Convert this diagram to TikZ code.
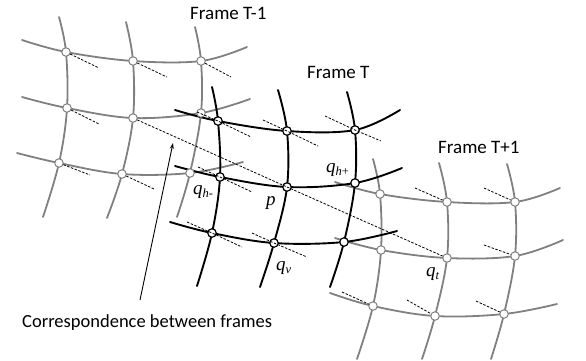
\documentclass[tikz,border=0pt]{standalone}
\usepackage{fontspec}
\setmainfont{Carlito}
\newfontfamily\labfont{Liberation Serif}
\newcommand{\qsub}[1]{{\itshape q}\raisebox{-3.5pt}{\fontsize{12.5}{13}\selectfont #1}}
\usetikzlibrary{arrows.meta}
\begin{document}
\begin{tikzpicture}[x=1pt,y=-1pt,
  grayline/.style={draw=black!50, line width=1.8pt, line cap=round},
  blackline/.style={draw=black, line width=1.9pt, line cap=round},
  graydot/.style={circle, draw=black!50, fill=white, line width=1pt, inner sep=0pt, minimum size=8.5pt},
  blackdot/.style={circle, draw=black, fill=white, line width=1.2pt, inner sep=0pt, minimum size=8.5pt},
  corr/.style={draw=black, line width=0.8pt, dash pattern=on 2.5pt off 1.5pt},
  framelabel/.style={font=\fontsize{19}{22}\selectfont, anchor=base west, inner sep=0pt},
  mathlabel/.style={font=\labfont\fontsize{19}{22}\selectfont, anchor=base west, inner sep=0pt}]
\useasboundingbox (0,0) rectangle (586,360);

% ---------- coordinates: Frame T-1 ----------
\coordinate (a11) at (66,52);  \coordinate (a12) at (133,61);  \coordinate (a13) at (201,61);
\coordinate (a21) at (67,108); \coordinate (a22) at (133,118); \coordinate (a23) at (201,113);
\coordinate (a31) at (59,163); \coordinate (a32) at (122,174); \coordinate (a33) at (190,173);
\coordinate (ar1s) at (22,40);  \coordinate (ar1e) at (247,47);
\coordinate (ar2s) at (22,97);  \coordinate (ar2e) at (250,99);
\coordinate (ar3s) at (17,153); \coordinate (ar3e) at (243,162);
\coordinate (ac1s) at (59,17);  \coordinate (ac1e) at (43,217);
\coordinate (ac2s) at (126,22); \coordinate (ac2e) at (107,218);
\coordinate (ac3s) at (195,27); \coordinate (ac3e) at (177,217);

% ---------- coordinates: Frame T ----------
\coordinate (b11) at (218,121); \coordinate (b12) at (287,131); \coordinate (b13) at (355,130);
\coordinate (b21) at (220,177); \coordinate (b22) at (287,187); \coordinate (b23) at (355,183);
\coordinate (b31) at (212,233); \coordinate (b32) at (274,243); \coordinate (b33) at (344,242);
\coordinate (br1s) at (175,110); \coordinate (br1e) at (400,110);
\coordinate (br2s) at (175,166); \coordinate (br2e) at (402,168);
\coordinate (br3s) at (170,222); \coordinate (br3e) at (397,231);
\coordinate (bc1s) at (212,87);  \coordinate (bc1e) at (197,286);
\coordinate (bc2s) at (278,90);  \coordinate (bc2e) at (260,287);
\coordinate (bc3s) at (347,92);  \coordinate (bc3e) at (330,287);

% ---------- coordinates: Frame T+1 ----------
\coordinate (c11) at (380,194); \coordinate (c12) at (447,202); \coordinate (c13) at (515,202);
\coordinate (c21) at (381,250); \coordinate (c22) at (447,258); \coordinate (c23) at (515,256);
\coordinate (c31) at (373,306); \coordinate (c32) at (435,316); \coordinate (c33) at (504,314);
\coordinate (cr1s) at (335,182); \coordinate (cr1e) at (560,188);
\coordinate (cr2s) at (335,238); \coordinate (cr2e) at (563,240);
\coordinate (cr3s) at (330,293); \coordinate (cr3e) at (557,304);
\coordinate (cc1s) at (373,159); \coordinate (cc1e) at (357,359);
\coordinate (cc2s) at (439,163); \coordinate (cc2e) at (422,359);
\coordinate (cc3s) at (507,164); \coordinate (cc3e) at (491,359);

% ---------- grids ----------
\foreach \g in {a,c}{
  \foreach \i in {1,2,3}{
    \draw[grayline] plot[smooth, tension=0.6] coordinates {(\g r\i s) (\g\i1) (\g\i2) (\g\i3) (\g r\i e)};
    \draw[grayline] plot[smooth, tension=0.6] coordinates {(\g c\i s) (\g1\i) (\g2\i) (\g3\i) (\g c\i e)};
  }
}
\foreach \i in {1,2,3}{
  \draw[blackline] plot[smooth, tension=0.6] coordinates {(br\i s) (b\i1) (b\i2) (b\i3) (br\i e)};
  \draw[blackline] plot[smooth, tension=0.6] coordinates {(bc\i s) (b1\i) (b2\i) (b3\i) (bc\i e)};
}

% ---------- grid points ----------
\foreach \i in {1,2,3}{\foreach \j in {1,2,3}{
  \node[graydot] (na\i\j) at (a\i\j) {};
  \node[graydot] (nc\i\j) at (c\i\j) {};
  \node[blackdot] (nb\i\j) at (b\i\j) {};
}}

% ---------- correspondences ----------
\coordinate (d1) at (99,68);   \draw[corr] (na11) -- (d1);
\coordinate (d2) at (167,77);  \draw[corr] (na12) -- (d2);
\coordinate (d3) at (231,77);  \draw[corr] (na13) -- (d3);
\coordinate (d4) at (99,124);  \draw[corr] (na21) -- (d4);
\coordinate (d5) at (90,175);  \draw[corr] (na31) -- (d5);
\coordinate (d6) at (154,189); \draw[corr] (na32) -- (d6);
\draw[corr] (na22) -- (nb22.center) -- (nc22);
\coordinate (e1s) at (197,112); \coordinate (e1e) at (251,137); \draw[corr] (e1s) -- (nb11.center) -- (e1e);
\coordinate (e2s) at (263,120); \coordinate (e2e) at (318,146); \draw[corr] (e2s) -- (nb12.center) -- (e2e);
\coordinate (e3s) at (325,116); \coordinate (e3e) at (381,141); \draw[corr] (e3s) -- (nb13.center) -- (e3e);
\coordinate (e4s) at (198,167); \coordinate (e4e) at (252,192); \draw[corr] (e4s) -- (nb21.center) -- (e4e);
\coordinate (e5s) at (187,222); \coordinate (e5e) at (242,247); \draw[corr] (e5s) -- (nb31.center) -- (e5e);
\coordinate (e6s) at (252,233); \coordinate (e6e) at (307,257); \draw[corr] (e6s) -- (nb32.center) -- (e6e);
\coordinate (f1) at (415,188); \draw[corr] (f1) -- (nc12);
\coordinate (f2) at (484,188); \draw[corr] (f2) -- (nc13);
\coordinate (f3) at (484,245); \draw[corr] (f3) -- (nc23);
\coordinate (f4) at (342,292); \draw[corr] (f4) -- (nc31);
\coordinate (f5) at (407,300); \draw[corr] (f5) -- (nc32);
\coordinate (f6) at (476,301); \draw[corr] (f6) -- (nc33);

% ---------- labels ----------
\node[framelabel] (lt1) at (190,19) {Frame T-1};
\node[framelabel] (lt) at (307,78) {Frame T};
\node[framelabel] (lt2) at (438,153) {Frame T+1};
\node[framelabel, font=\fontsize{18.5}{22}\selectfont] (lcorr) at (22,327) {Correspondence between frames};
\coordinate (arrtip) at (173,143);
\coordinate (arrfoot) at (140,300);
\draw[line width=0.9pt, -{Stealth[length=6pt,width=4pt]}] (arrfoot) -- (arrtip);

\node[mathlabel] (lqhm) at (193,194) {\qsub{\itshape h\upshape -}};
\node[mathlabel] (lp) at (266,205) {\itshape p};
\node[mathlabel] (lqhp) at (326,172) {\qsub{\itshape h\upshape +}};
\node[mathlabel] (lqv) at (276,270) {\qsub{\itshape v}};
\node[mathlabel] (lqt) at (426,276) {\qsub{\itshape t}};
\end{tikzpicture}
\end{document}
